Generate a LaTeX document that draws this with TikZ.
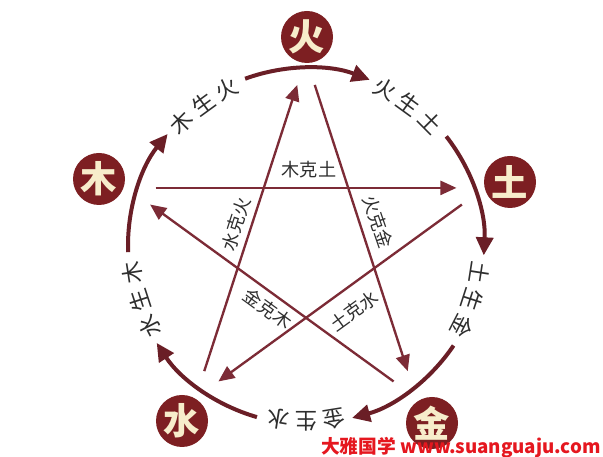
\documentclass[tikz,border=0pt]{standalone}
\usepackage{fontspec}
\newfontfamily\cjk{Noto Sans CJK SC}
\usetikzlibrary{arrows.meta,calc}
\definecolor{ringc}{HTML}{6A1E26}
\definecolor{starc}{HTML}{7C2B36}
\definecolor{elemc}{HTML}{7D1F22}
\definecolor{elemtxt}{HTML}{F7EDCB}
\definecolor{labc}{HTML}{2E2E2E}
\definecolor{wmred}{HTML}{E5171F}
\tikzset{
  ringarc/.style={draw=ringc, line width=0.12cm, -{Triangle[length=0.54cm,width=0.51cm]}},
  starline/.style={draw=starc, line width=0.07cm, shorten <=0.85cm, shorten >=0.85cm, -{Triangle[length=0.48cm,width=0.42cm]}},
  elem/.style={circle, fill=elemc, minimum size=1.56cm, inner sep=0pt, text=elemtxt, font=\cjk\bfseries\fontsize{31}{31}\selectfont},
  olab/.style={text=labc, inner sep=0pt, font=\cjk\fontsize{19}{19}\selectfont},
  ilab/.style={text=labc, inner sep=0pt, font=\cjk\fontsize{15.5}{15.5}\selectfont}
}
\begin{document}
\begin{tikzpicture}[x=0.03cm,y=0.03cm]
\useasboundingbox[fill=white] (0,0) rectangle (603,457);
\coordinate (C) at (306,211);
% star tips
\coordinate (tF) at ($(C)+(90:5.64cm)$);
\coordinate (tE) at ($(C)+(18:5.64cm)$);
\coordinate (tM) at ($(C)+(-54:5.64cm)$);
\coordinate (tW) at ($(C)+(-126:5.64cm)$);
\coordinate (tWd) at ($(C)+(162:5.64cm)$);
% ke cycle (star)
\draw[starline] (tWd) -- (tE);
\draw[starline] (tE) -- (tW);
\draw[starline] (tW) -- (tF);
\draw[starline] (tF) -- (tM);
\draw[starline] (tM) -- (tWd);
% sheng cycle (ring)
\foreach \t [count=\i] in {90,18,-54,-126,162} {
  \coordinate (s\i) at ($(C)+({\t+20}:5.34cm)$);
  \draw[ringarc] (s\i) arc[start angle=\t+20, end angle=\t-21, radius=5.34cm];
}
% elements
\node[elem] (huo) at (307,420) {火};
\node[elem] (mu) at (99,278) {木};
\node[elem] (tu) at (510,275) {土};
\node[elem] (shui) at (182,36) {水};
\node[elem] (jin) at (432,34) {金};
% outer labels
\foreach \t/\a/\b/\c [count=\i] in {162/木/生/火, 90/火/生/土, 18/土/生/金, -54/金/生/水, -126/水/生/木} {
  \pgfmathsetmacro\p{\t-36}
  \node[olab, rotate=\p+9.2-90] (oa\i) at ($(C)+({\p+9.2}:5.26cm)$) {\a};
  \node[olab, rotate=\p-90] (ob\i) at ($(C)+({\p}:5.26cm)$) {\b};
  \node[olab, rotate=\p-9.2-90] (oc\i) at ($(C)+({\p-9.2}:5.26cm)$) {\c};
}
% inner labels
\node[ilab] (k1) at (309,287) {木克土};
\node[ilab, rotate=72] (k2) at (236,233) {水克火};
\node[ilab, rotate=-71] (k3) at (378,235) {火克金};
\node[ilab, rotate=-36] (k4) at (268,148) {金克木};
\node[ilab, rotate=36] (k5) at (354,146) {土克水};
% watermark
\node[anchor=east, text=wmred, inner sep=0pt, font=\cjk\bfseries\fontsize{16}{16}\selectfont] (wm) at (601,9) {大雅国学\ www.suanguaju.com};
\end{tikzpicture}
\end{document}
